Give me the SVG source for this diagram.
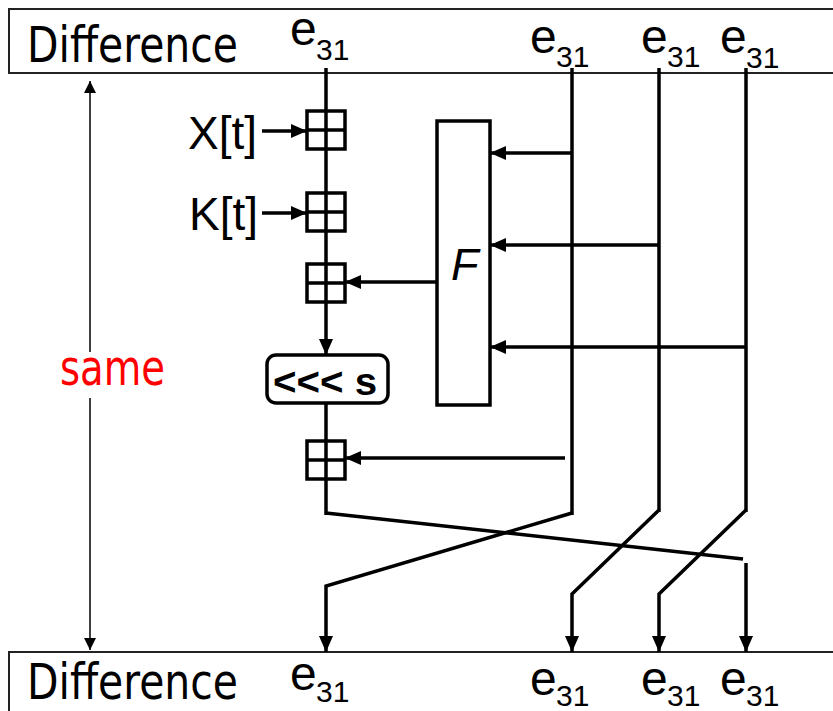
<svg xmlns="http://www.w3.org/2000/svg" width="833" height="711" viewBox="0 0 833 711">
<style>
.frame{fill:none;stroke:#222;stroke-width:2}
.w{fill:none;stroke:#000;stroke-width:3.5;stroke-linecap:butt;stroke-linejoin:miter}
.thin{fill:none;stroke:#000;stroke-width:1.5}
.box{fill:#fff;stroke:#000;stroke-width:3.5}
.tah{font-family:"DejaVu Sans","Liberation Sans",sans-serif;font-size:50px;fill:#000}
.ar{font-family:"Liberation Sans",Arial,sans-serif;fill:#000}
.e{font-size:48px}
.sub{font-size:30px}
</style>
<defs>
<marker id="aht" markerWidth="16" markerHeight="14" refX="16" refY="7" orient="auto" markerUnits="userSpaceOnUse" viewBox="0 0 16 14"><path d="M0,0 L16,7 L0,14 Z" fill="#000"/></marker>
<marker id="ahw" markerWidth="12" markerHeight="12" refX="12" refY="6" orient="auto-start-reverse" markerUnits="userSpaceOnUse" viewBox="0 0 12 12"><path d="M0,0 L12,6 L0,12 Z" fill="#000"/></marker>
<g id="adder-shape">
<rect x="-19" y="-19" width="38" height="38" fill="#fff" stroke="#000" stroke-width="3.5"/>
<path d="M-19,0 H19 M0,-19 V19" stroke="#000" stroke-width="3.5"/>
</g>
</defs>

<g id="top-difference">
<rect class="frame" x="9" y="9" width="830" height="64"/>
<text class="tah" x="27" y="62" textLength="211" lengthAdjust="spacingAndGlyphs">Difference</text>
<text class="ar e" x="290" y="45">e<tspan class="sub" x="316" y="60">31</tspan></text>
<text class="ar e" x="530" y="53">e<tspan class="sub" x="556" y="67">31</tspan></text>
<text class="ar e" x="641" y="53">e<tspan class="sub" x="667" y="67">31</tspan></text>
<text class="ar e" x="720" y="53">e<tspan class="sub" x="746" y="68">31</tspan></text>
</g>

<g id="bottom-difference">
<rect class="frame" x="9" y="652" width="830" height="70"/>
<text class="tah" x="27" y="699" textLength="211" lengthAdjust="spacingAndGlyphs">Difference</text>
<text class="ar e" x="290" y="690">e<tspan class="sub" x="316" y="702">31</tspan></text>
<text class="ar e" x="530" y="695">e<tspan class="sub" x="556" y="706">31</tspan></text>
<text class="ar e" x="641" y="695">e<tspan class="sub" x="667" y="706">31</tspan></text>
<text class="ar e" x="720" y="695">e<tspan class="sub" x="746" y="706">31</tspan></text>
</g>

<g id="connectors">
<line class="thin" x1="90" y1="81" x2="90" y2="352" marker-start="url(#ahw)"/>
<line class="thin" x1="90" y1="398" x2="90" y2="650" marker-end="url(#ahw)"/>
<line class="w" x1="326" y1="68" x2="326" y2="303"/>
<line class="w" x1="326" y1="303" x2="326" y2="355" marker-end="url(#aht)"/>
<line class="w" x1="326" y1="403" x2="326" y2="515"/>
<line class="w" x1="572" y1="68" x2="572" y2="515"/>
<line class="w" x1="659" y1="68" x2="659" y2="512"/>
<line class="w" x1="746" y1="68" x2="746" y2="512"/>
<line class="w" x1="262" y1="131" x2="307" y2="131" marker-end="url(#aht)"/>
<line class="w" x1="262" y1="213" x2="307" y2="213" marker-end="url(#aht)"/>
<line class="w" x1="572" y1="153" x2="490" y2="153" marker-end="url(#aht)"/>
<line class="w" x1="659" y1="245" x2="490" y2="245" marker-end="url(#aht)"/>
<line class="w" x1="746" y1="347" x2="490" y2="347" marker-end="url(#aht)"/>
<line class="w" x1="437" y1="282" x2="345" y2="282" marker-end="url(#aht)"/>
<line class="w" x1="565" y1="458" x2="345" y2="458" marker-end="url(#aht)"/>
<polyline class="w" points="326,513 743,559"/>
<polyline class="w" points="746,563 746,652" marker-end="url(#aht)"/>
<polyline class="w" points="572,513 326,586 326,652" marker-end="url(#aht)"/>
<polyline class="w" points="659,510 572,594 572,652" marker-end="url(#aht)"/>
<polyline class="w" points="746,510 659,594 659,652" marker-end="url(#aht)"/>
</g>

<g id="same-label">
<text class="tah" x="60" y="385" style="fill:#ff0000" textLength="105" lengthAdjust="spacingAndGlyphs">same</text>
</g>

<g id="x-input"><text class="ar" x="188" y="149" font-size="46">X[t]</text></g>
<g id="k-input"><text class="ar" x="189" y="230" font-size="46">K[t]</text></g>

<g id="adder1"><use href="#adder-shape" x="326" y="130"/></g>
<g id="adder2"><use href="#adder-shape" x="326" y="212"/></g>
<g id="adder3"><use href="#adder-shape" x="326" y="283"/></g>
<g id="adder4"><use href="#adder-shape" x="326" y="460"/></g>

<g id="f-box">
<rect class="box" x="437" y="121" width="53" height="284"/>
<text class="ar" x="451" y="280" font-size="45" font-style="italic">F</text>
</g>

<g id="rotate-box">
<rect class="box" x="267" y="355" width="121" height="48" rx="9"/>
<text class="ar" x="273" y="395" font-size="38" font-weight="bold" textLength="104" lengthAdjust="spacingAndGlyphs">&lt;&lt;&lt; s</text>
</g>
</svg>
